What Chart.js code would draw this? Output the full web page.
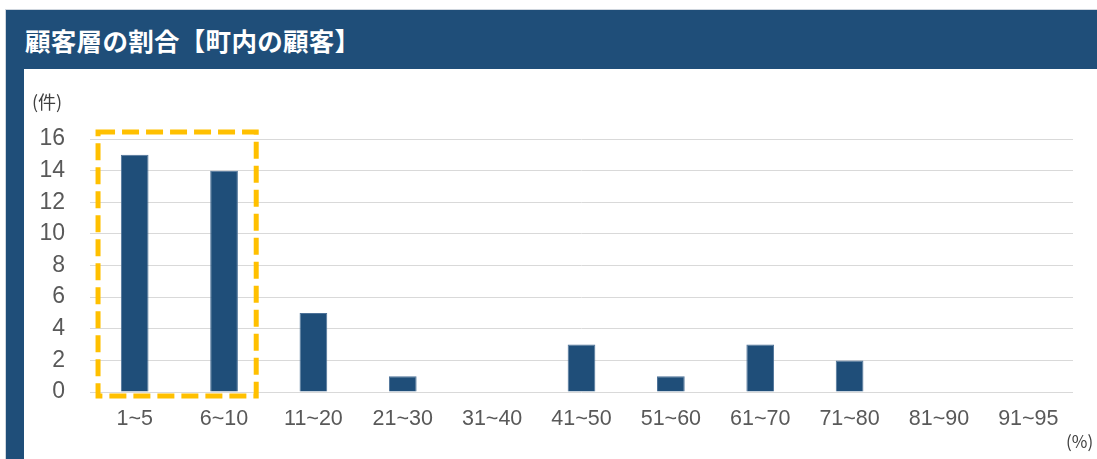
<!DOCTYPE html>
<html lang="ja">
<head>
<meta charset="utf-8">
<script src="https://cdn.jsdelivr.net/npm/chart.js@4/dist/chart.umd.min.js"></script>
<style>
  html, body { margin: 0; padding: 0; background: #fff; width: 1097px; height: 459px; overflow: hidden; }
  .frame { position: absolute; left: 5px; top: 9px; width: 1100px; height: 460px; background: #1f4e79; border: 1px solid #cfd6de; box-sizing: border-box; }
  .title { position: absolute; left: 25px; top: 23px; color: #fff; font: bold 25.5px "Noto Sans CJK JP", sans-serif; line-height: 34px; letter-spacing: 0.3px; }
  .panel { position: absolute; left: 24px; top: 69px; width: 1073px; height: 390px; background: #fff; }
  .unit { position: absolute; color: #404040; font-family: "Noto Sans CJK JP", sans-serif; white-space: nowrap; }
  #chart { position: absolute; left: 24px; top: 69px; }
</style>
</head>
<body>
<div class="frame"></div>
<div class="title">顧客層の割合【町内の顧客】</div>
<div class="panel"></div>
<canvas id="chart" width="1073" height="390"></canvas>
<div class="unit" style="left:32px;top:88px;font-size:18px;">(件)</div>
<div class="unit" style="left:1066px;top:428px;font-size:17px;">(%)</div>
<script>
const categories = ['1~5', '6~10', '11~20', '21~30', '31~40', '41~50', '51~60', '61~70', '71~80', '81~90', '91~95'];
const counts = [15, 14, 5, 1, 0, 3, 1, 3, 2, 0, 0];
const yMin = 0;
const yMax = 16;
const yStep = 2;
const highlighted = ['1~5', '6~10'];

// dashed yellow box around the highlighted categories
const highlightBox = {
  id: 'highlightBox',
  afterDatasetsDraw(chart) {
    const { ctx, scales: { x, y } } = chart;
    const i0 = categories.indexOf(highlighted[0]);
    const i1 = categories.indexOf(highlighted[highlighted.length - 1]);
    const w = x.width / categories.length;
    const left = x.getPixelForValue(i0) - 0.41 * w;
    const right = x.getPixelForValue(i1) + 0.36 * w;
    const top = y.getPixelForValue(yMax) - 7;
    const bottom = y.getPixelForValue(yMin) + 4;
    ctx.save();
    ctx.strokeStyle = '#ffc000';
    ctx.lineWidth = 5;
    ctx.setLineDash([17, 7]);
    ctx.strokeRect(left, top, right - left, bottom - top);
    ctx.restore();
  }
};

new Chart(document.getElementById('chart'), {
  type: 'bar',
  data: {
    labels: categories,
    datasets: [{
      data: counts,
      backgroundColor: '#1f4e79',
      borderColor: '#4d7298',
      borderWidth: 1,
      barPercentage: 0.31,
      categoryPercentage: 1
    }]
  },
  options: {
    responsive: false,
    animation: false,
    layout: { padding: { left: 0, right: 24, top: 70, bottom: 0 } },
    plugins: { legend: { display: false }, tooltip: { enabled: false } },
    scales: {
      x: {
        grid: { display: false, drawTicks: false },
        border: { display: false },
        ticks: { color: '#595959', padding: 14, maxRotation: 0, font: { family: "'Liberation Sans', Arial, sans-serif", size: 21.5 } },
        afterFit(s) { s.height = 67; }
      },
      y: {
        min: yMin,
        max: yMax,
        grid: { color: '#d9d9d9', lineWidth: 1, drawTicks: false },
        border: { display: false },
        ticks: { stepSize: yStep, color: '#595959', padding: 25, font: { family: "'Liberation Sans', Arial, sans-serif", size: 23 } },
        afterFit(s) { s.width = 66; }
      }
    }
  },
  plugins: [highlightBox]
});
</script>
</body>
</html>
